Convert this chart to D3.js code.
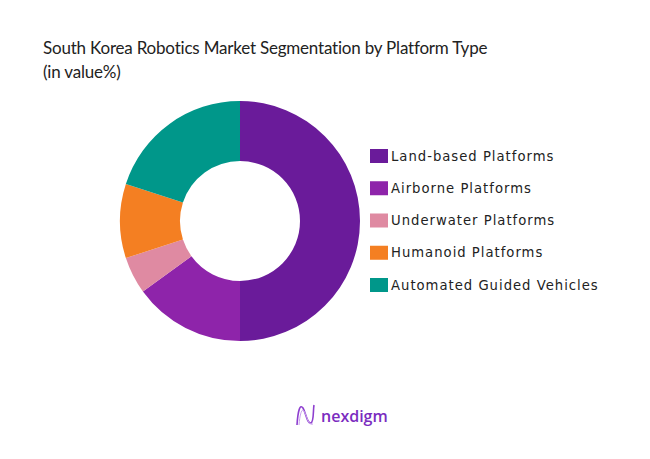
<!DOCTYPE html>
<html><head><meta charset="utf-8">
<script src="https://cdn.jsdelivr.net/npm/d3@7/dist/d3.min.js"></script>
<style>body{margin:0;background:#fff;} svg{display:block;}</style>
</head><body>
<svg id="chart" width="650" height="459"></svg>
<script>
const categories = ["Land-based Platforms","Airborne Platforms","Underwater Platforms","Humanoid Platforms","Automated Guided Vehicles"];
const values = [50, 15, 5, 10, 20];
const colors = ["#6a1b9a","#8e24aa","#df8aa2","#f47f22","#00978a"];
const titleLines = ["South Korea Robotics Market Segmentation by Platform Type","(in value%)"];

const svg = d3.select("#chart");

svg.append("rect").attr("width",650).attr("height",459).attr("fill","#fff");

const title = svg.append("text").attr("x",43).attr("y",54)
  .attr("font-family","Lato, sans-serif").attr("font-size",17).attr("letter-spacing",-0.2).attr("fill","#222");
titleLines.forEach((t,i)=>{
  title.append("tspan").attr("x",43).attr("dy", i===0?0:24).text(t);
});

const cx = 240, cy = 221, R = 120, r = 60;
const data = categories.map((c,i)=>({name:c, value:values[i], color:colors[i]}));
const pie = d3.pie().value(d=>d.value).sort(null);
const arc = d3.arc().innerRadius(r).outerRadius(R);
const g = svg.append("g").attr("transform",`translate(${cx},${cy})`);
g.selectAll("path").data(pie(data)).join("path")
  .attr("d",arc).attr("fill",d=>d.data.color);

const ly = d3.scalePoint().domain(categories).range([156,285]);
const leg = svg.append("g");
const items = leg.selectAll("g").data(data).join("g")
  .attr("transform",d=>`translate(370,${ly(d.name)})`);
items.append("rect").attr("x",0).attr("y",-7).attr("width",18).attr("height",14).attr("fill",d=>d.color);
items.append("text").attr("x",21).attr("y",4.5)
  .attr("font-family","'DejaVu Sans', sans-serif").attr("font-size",13.2).attr("letter-spacing",1)
  .attr("fill","#222").text(d=>d.name);

// logo
const logo = svg.append("g");
logo.append("path")
  .attr("d","M297,425 C298,410 300,404 303,408 C306,413 307,424 311,423 C314,422 313,410 314,405")
  .attr("fill","none").attr("stroke","#8e3fcf").attr("stroke-width",1.6);
logo.append("path")
  .attr("d","M299,425 C300,413 302,408 304,411 C307,416 308,426 313,424")
  .attr("fill","none").attr("stroke","#c9a0ee").attr("stroke-width",1);
logo.append("text").attr("x",321).attr("y",422)
  .attr("font-family","'Open Sans', sans-serif").attr("font-size",16).attr("font-weight",600)
  .attr("fill","#7b2cbf").text("nexdigm");
</script>
</body></html>
